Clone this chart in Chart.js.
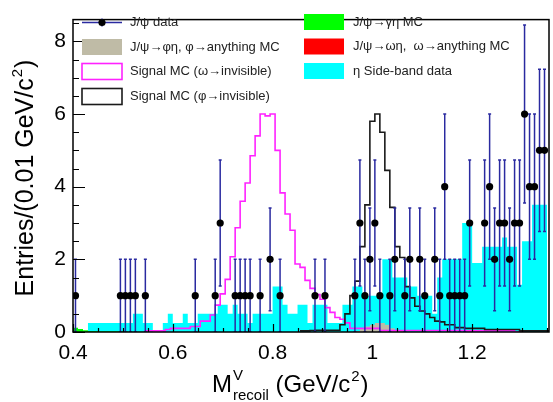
<!DOCTYPE html>
<html>
<head>
<meta charset="utf-8">
<script src="https://cdn.jsdelivr.net/npm/chart.js@4.4.0/dist/chart.umd.min.js"></script>
<style>
  html, body { margin: 0; padding: 0; background: #fff; }
</style>
</head>
<body>
<canvas id="c" width="553" height="402"></canvas>
<script>
"use strict";

// J/psi data (bin centres, entries)
let dataX = [0.405, 0.495, 0.505, 0.515, 0.525, 0.545, 0.645, 0.685, 0.695, 0.725,
  0.735, 0.745, 0.755, 0.775, 0.795, 0.815, 0.885, 0.905, 0.965, 0.975,
  0.985, 0.995, 1.005, 1.015, 1.035, 1.045, 1.065, 1.075, 1.095, 1.105,
  1.125, 1.135, 1.145, 1.155, 1.165, 1.175, 1.185, 1.195, 1.225, 1.235,
  1.245, 1.255, 1.265, 1.275, 1.285, 1.295, 1.305, 1.315, 1.325, 1.335, 1.345];
let dataY = [1, 1, 1, 1, 1, 1, 1, 1, 3, 1,
  1, 1, 1, 1, 2, 1, 1, 1, 1, 3,
  1, 2, 3, 1, 1, 2, 1, 2, 2, 1,
  2, 1, 4, 1, 1, 1, 1, 3, 3, 4,
  2, 3, 3, 2, 3, 3, 6, 4, 4, 5, 5];

// eta side-band data, bins of 0.01 starting at 0.40
let sideStart = 0.40;
let sideVals = [0, 0, 0, 0, 0.25, 0.25, 0.25, 0.25, 0.25, 0.25,
  0.25, 0.25, 0.25, 0.5, 0.5, 0.25, 0.25, 0, 0, 0.25,
  0.5, 0.25, 0.25, 0.5, 0.25, 0.25, 0.5, 0.5, 0.5, 0.5,
  0.75, 0.75, 0.5, 0.75, 0.5, 0.5, 0.25, 0.5, 0.5, 0.5,
  0.5, 1.25, 1.25, 0.75, 0.5, 0.5, 0.75, 0.75, 0.25, 0.75,
  0.75, 0.75, 0.25, 0.25, 0.25, 0.75, 0.75, 1.25, 1.25, 1.0,
  1.0, 1.0, 1.0, 2.0, 2.0, 1.5, 1.5, 1.5, 1.25, 1.25,
  1.0, 1.0, 1.0, 0.5, 1.5, 2.0, 2.0, 2.0, 2.0, 3.0,
  3.0, 1.9, 1.9, 2.35, 2.35, 2.35, 2.35, 2.6, 2.35, 2.35,
  1.3, 2.5, 2.5, 3.5, 3.5];

// J/psi -> gamma eta MC
let gammaStart = 0.40;
let gammaVals = [0.14, 0.12, 0.08, 0.05, 0.03, 0.03, 0.02, 0.02, 0.02, 0.02,
  0.02, 0.02, 0.01, 0.01, 0.01, 0.01];

// J/psi -> omega eta MC
let omegaEtaStart = 0.70;
let omegaEtaVals = [0, 0, 0, 0, 0, 0, 0, 0, 0, 0];

// J/psi -> phi eta MC
let phiEtaStart = 0.965;
let phiEtaVals = [0.02, 0.03, 0.08, 0.15, 0.2, 0.25, 0.25, 0.2, 0.1, 0.04];

// signal MC omega -> invisible
let omegaStart = 0.545;
let omegaVals = [0.01, 0.03, 0.03, 0.03, 0.03, 0.07, 0.1, 0.1, 0.1, 0.1,
  0.15, 0.15, 0.3, 0.3, 0.47, 0.74, 1.05, 1.45, 2.07, 2.87,
  3.6, 4.1, 4.85, 5.4, 6.0, 5.95, 6.0, 5.0, 3.83, 3.25,
  2.8, 1.87, 1.78, 1.42, 1.2, 1.03, 0.9, 0.67, 0.54, 0.4,
  0.35, 0.25, 0.1, 0.1, 0.1, 0.1, 0.1, 0.1, 0.04, 0.04,
  0.04, 0.04, 0.04, 0.04, 0.04, 0.04, 0.04, 0.04, 0.04, 0.04,
  0.04, 0.04, 0.04, 0.04, 0.04, 0.03, 0.03, 0.03, 0.03, 0.03,
  0.03, 0.03, 0.03, 0.03, 0.03, 0];

// signal MC phi -> invisible
let phiStart = 0.855;
let phiVals = [0.03, 0.03, 0.03, 0.04, 0.05, 0.05, 0.05, 0.05, 0.05, 0.2,
  0.5, 1.0, 1.4, 2.35, 3.5, 5.8, 6.0, 5.5, 4.45, 3.43,
  2.35, 2.05, 1.25, 0.94, 0.71, 0.58, 0.5, 0.4, 0.3, 0.28,
  0.2, 0.2, 0.12, 0.12, 0.1, 0.1, 0.1, 0.1, 0.07, 0.07,
  0.07, 0.07, 0.07, 0.07, 0.07, 0.03, 0.03, 0.03, 0.03, 0.03];

let xTicks = [0.4, 0.6, 0.8, 1.0, 1.2];
let yTicks = [0, 2, 4, 6, 8];

let binWidth = 0.01;

function histPoints(start, vals) {
  let pts = [];
  for (let i = 0; i < vals.length; i++) {
    pts.push({ x: +(start + i * binWidth).toFixed(4), y: vals[i] });
  }
  pts.push({ x: +(start + vals.length * binWidth).toFixed(4), y: vals[vals.length - 1] });
  return pts;
}

function pointData() {
  let pts = [];
  for (let i = 0; i < dataX.length; i++) {
    pts.push({ x: dataX[i], y: dataY[i] });
  }
  return pts;
}

let fontName = "'Liberation Sans', Arial, Helvetica, sans-serif";
let errColor = "#2a2aa0";

function filledHist(label, start, vals, color, order) {
  return {
    type: "line", label: label, data: histPoints(start, vals),
    stepped: "after", fill: "origin", backgroundColor: color,
    borderWidth: 0, borderColor: color, pointRadius: 0, order: order
  };
}

function outlineHist(label, start, vals, color, order) {
  return {
    type: "line", label: label, data: histPoints(start, vals),
    stepped: "after", fill: false, borderColor: color,
    borderWidth: 1.6, pointRadius: 0, order: order
  };
}

let datasets = [
  filledHist("eta side-band", sideStart, sideVals, "#00ffff", 9),
  filledHist("gamma eta", gammaStart, gammaVals, "#00ff00", 8),
  filledHist("omega eta", omegaEtaStart, omegaEtaVals, "#ff0000", 7),
  filledHist("phi eta", phiEtaStart, phiEtaVals, "#bfbba6", 6),
  outlineHist("omega invisible", omegaStart, omegaVals, "#ff22ff", 5),
  outlineHist("phi invisible", phiStart, phiVals, "#1a1a1a", 4),
  {
    type: "scatter", label: "data", data: pointData(),
    pointRadius: 3.6, pointBackgroundColor: "#000", pointBorderColor: "#000",
    pointBorderWidth: 0, order: 1
  }
];

// error bars, drawn just before the data markers
let errorBars = {
  id: "errorBars",
  beforeDatasetDraw(chart, args) {
    if (chart.data.datasets[args.index].type !== "scatter") return;
    let ctx = chart.ctx;
    let xs = chart.scales.x, ys = chart.scales.y;
    let area = chart.chartArea;
    ctx.save();
    ctx.beginPath();
    ctx.rect(area.left, area.top, area.right - area.left, area.bottom - area.top);
    ctx.clip();
    ctx.strokeStyle = errColor;
    ctx.lineWidth = 1.5;
    for (let i = 0; i < dataX.length; i++) {
      let e = Math.sqrt(dataY[i]);
      let px = xs.getPixelForValue(dataX[i]);
      let top = ys.getPixelForValue(dataY[i] + e);
      let bot = ys.getPixelForValue(Math.max(dataY[i] - e, 0));
      ctx.beginPath();
      ctx.moveTo(px, top); ctx.lineTo(px, bot);
      ctx.moveTo(px - 1.5, top); ctx.lineTo(px + 1.5, top);
      ctx.moveTo(px - 1.5, bot); ctx.lineTo(px + 1.5, bot);
      ctx.stroke();
    }
    ctx.restore();
  }
};

// frame, inside ticks, legend and axis titles
let decorations = {
  id: "decorations",
  afterDraw(chart) {
    let ctx = chart.ctx;
    let a = chart.chartArea;
    let xs = chart.scales.x, ys = chart.scales.y;
    ctx.save();
    ctx.strokeStyle = "#000";
    ctx.lineWidth = 1.5;
    ctx.strokeRect(a.left, a.top, a.right - a.left, a.bottom - a.top);

    ctx.lineWidth = 1.2;
    ctx.beginPath();
    for (let v = 0; v <= 8.5; v += 0.5) {
      let py = Math.round(ys.getPixelForValue(v)) + 0.5;
      let len = (v % 2 === 0) ? 12 : 6;
      ctx.moveTo(a.left, py); ctx.lineTo(a.left + len, py);
    }
    for (let k = 0; k <= 19; k++) {
      let v = 0.4 + k * 0.05;
      if (v > xs.max) break;
      let px = Math.round(xs.getPixelForValue(v)) + 0.5;
      let len = (k % 4 === 0) ? 8 : 4;
      ctx.moveTo(px, a.bottom); ctx.lineTo(px, a.bottom - len);
    }
    ctx.stroke();

    // legend
    ctx.font = "13px " + fontName;
    ctx.textBaseline = "middle";
    ctx.textAlign = "left";
    let lx = 82, lw = 40, lh = 16;
    let rx = 304;
    let rowsL = [22.5, 47, 71.5, 96.5];
    let rowsR = [22, 46.5, 71];

    ctx.strokeStyle = errColor;
    ctx.lineWidth = 1.4;
    ctx.beginPath();
    ctx.moveTo(lx, rowsL[0]); ctx.lineTo(lx + lw, rowsL[0]);
    ctx.moveTo(lx + lw / 2, rowsL[0] - 4); ctx.lineTo(lx + lw / 2, rowsL[0] + 4);
    ctx.stroke();
    ctx.fillStyle = "#000";
    ctx.beginPath();
    ctx.arc(lx + lw / 2, rowsL[0], 3.6, 0, Math.PI * 2);
    ctx.fill();

    ctx.fillStyle = "#bfbba6";
    ctx.fillRect(lx, rowsL[1] - lh / 2, lw, lh);
    ctx.lineWidth = 1.6;
    ctx.strokeStyle = "#ff22ff";
    ctx.strokeRect(lx, rowsL[2] - lh / 2, lw, lh);
    ctx.strokeStyle = "#1a1a1a";
    ctx.strokeRect(lx, rowsL[3] - lh / 2, lw, lh);
    ctx.fillStyle = "#00ff00";
    ctx.fillRect(rx, rowsR[0] - lh / 2, lw, lh);
    ctx.fillStyle = "#ff0000";
    ctx.fillRect(rx, rowsR[1] - lh / 2, lw, lh);
    ctx.fillStyle = "#00ffff";
    ctx.fillRect(rx, rowsR[2] - lh / 2, lw, lh);

    ctx.fillStyle = "#222";
    ctx.fillText("J/\u03c8 data", 130, rowsL[0]);
    ctx.fillText("J/\u03c8\u2192\u03c6\u03b7, \u03c6\u2192anything MC", 130, rowsL[1]);
    ctx.fillText("Signal MC (\u03c9\u2192invisible)", 130, rowsL[2]);
    ctx.fillText("Signal MC (\u03c6\u2192invisible)", 130, rowsL[3]);
    ctx.fillText("J/\u03c8\u2192\u03b3\u03b7 MC", 353, rowsR[0]);
    ctx.fillText("J/\u03c8\u2192\u03c9\u03b7,  \u03c9\u2192anything MC", 353, rowsR[1]);
    ctx.fillText("\u03b7 Side-band data", 353, rowsR[2]);

    // x title
    ctx.fillStyle = "#000";
    ctx.textBaseline = "alphabetic";
    let big = "24px " + fontName, small = "15px " + fontName;
    let x = 212, base = 392;
    ctx.font = big;
    ctx.fillText("M", x, base);
    x += ctx.measureText("M").width + 1;
    ctx.font = small;
    ctx.fillText("V", x, base - 12);
    ctx.fillText("recoil", x, base + 8);
    x += ctx.measureText("recoil").width;
    ctx.font = big;
    ctx.fillText(" (GeV/c", x, base);
    x += ctx.measureText(" (GeV/c").width;
    ctx.font = small;
    ctx.fillText("2", x + 1, base - 11);
    x += ctx.measureText("2").width + 2;
    ctx.font = big;
    ctx.fillText(")", x, base);

    // y title
    ctx.save();
    ctx.translate(33, 178);
    ctx.rotate(-Math.PI / 2);
    let yBig = "25px " + fontName;
    ctx.font = yBig;
    let w1 = ctx.measureText("Entries/(0.01 GeV/c").width;
    ctx.font = small;
    let w2 = ctx.measureText("2").width;
    ctx.font = yBig;
    let w3 = ctx.measureText(")").width;
    let sx = -(w1 + w2 + w3 + 2) / 2;
    ctx.fillText("Entries/(0.01 GeV/c", sx, 0);
    ctx.font = small;
    ctx.fillText("2", sx + w1 + 1, -11);
    ctx.font = yBig;
    ctx.fillText(")", sx + w1 + w2 + 2, 0);
    ctx.restore();

    ctx.restore();
  }
};

let ctx = document.getElementById("c");
let chart = new Chart(ctx, {
  data: { datasets: datasets },
  options: {
    responsive: false,
    animation: false,
    devicePixelRatio: 1,
    layout: { padding: { top: 9, right: 3, left: 0, bottom: 0 } },
    plugins: { legend: { display: false }, tooltip: { enabled: false } },
    scales: {
      x: {
        type: "linear", min: 0.4, max: 1.354,
        grid: { display: false, drawTicks: false },
        border: { display: false },
        afterBuildTicks: (s) => { s.ticks = xTicks.map((v) => ({ value: v })); },
        afterFit: (s) => { s.height = 70; },
        ticks: {
          padding: 9, color: "#000", maxRotation: 0,
          font: { size: 21, family: fontName },
          callback: (v) => String(+v.toFixed(1))
        }
      },
      y: {
        type: "linear", min: 0, max: 8.6,
        grid: { display: false, drawTicks: false },
        border: { display: false },
        afterBuildTicks: (s) => { s.ticks = yTicks.map((v) => ({ value: v })); },
        afterFit: (s) => { s.width = 73; },
        ticks: {
          padding: 7, color: "#000",
          font: { size: 21, family: fontName }
        }
      }
    }
  },
  plugins: [errorBars, decorations]
});
</script>
</body>
</html>
